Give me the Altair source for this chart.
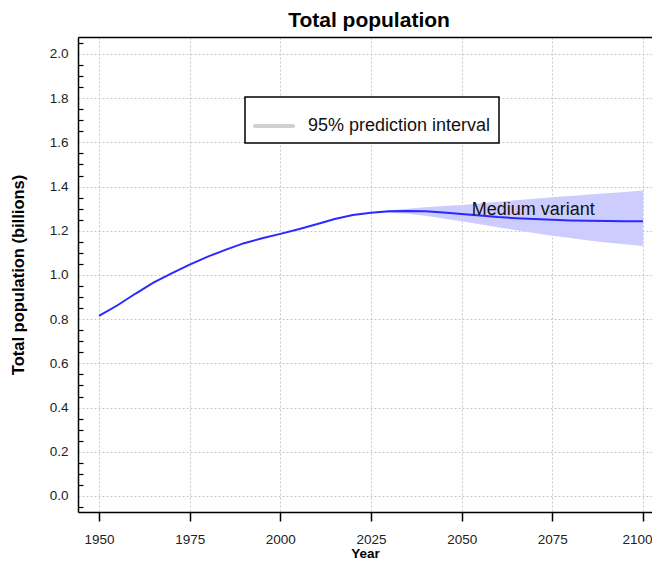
import altair as alt
import pandas as pd

FONT = "Liberation Sans"

# ---- data ----
years = [1950, 1955, 1960, 1965, 1970, 1975, 1980, 1985, 1990, 1995, 2000,
         2005, 2010, 2015, 2020, 2025, 2030, 2035, 2040, 2045, 2050, 2055,
         2060, 2065, 2070, 2075, 2080, 2085, 2090, 2095, 2100]
medium = [0.815, 0.862, 0.915, 0.965, 1.007, 1.047, 1.083, 1.115, 1.144, 1.166, 1.186,
          1.207, 1.230, 1.253, 1.271, 1.282, 1.288, 1.290, 1.288, 1.283, 1.276, 1.269,
          1.262, 1.257, 1.253, 1.250, 1.247, 1.245, 1.244, 1.243, 1.243]

band_years = [2020, 2025, 2030, 2035, 2040, 2045, 2050, 2055, 2060, 2065, 2070,
              2075, 2080, 2085, 2090, 2095, 2100]
band_lo = [1.271, 1.281, 1.282, 1.277, 1.268, 1.256, 1.243, 1.230, 1.216, 1.203, 1.190,
           1.178, 1.167, 1.156, 1.147, 1.139, 1.131]
band_hi = [1.271, 1.283, 1.293, 1.300, 1.306, 1.312, 1.317, 1.324, 1.331, 1.338, 1.345,
           1.352, 1.358, 1.364, 1.370, 1.376, 1.382]
band_label = "95% prediction interval"

ann_year = [2052.8]
ann_value = [1.271]
ann_text = ["Medium variant"]

x_ticks = [1950, 1975, 2000, 2025, 2050, 2075, 2100]
y_ticks = [-0.05, 0.0, 0.05, 0.1, 0.15, 0.2, 0.25, 0.3, 0.35, 0.4, 0.45, 0.5, 0.55,
           0.6, 0.65, 0.7, 0.75, 0.8, 0.85, 0.9, 0.95, 1.0, 1.05, 1.1, 1.15, 1.2,
           1.25, 1.3, 1.35, 1.4, 1.45, 1.5, 1.55, 1.6, 1.65, 1.7, 1.75, 1.8, 1.85,
           1.9, 1.95, 2.0, 2.05]
x_domain = [1944.21, 2102.48]
y_domain = [-0.0724, 2.0769]

line_df = pd.DataFrame({"Year": years, "Pop": medium})
band_df = pd.DataFrame({"Year": band_years, "lo": band_lo, "hi": band_hi,
                        "key": [band_label] * len(band_years)})
ann_df = pd.DataFrame({"Year": ann_year, "Pop": ann_value, "text": ann_text})

xscale = alt.Scale(domain=x_domain, nice=False, zero=False)
yscale = alt.Scale(domain=y_domain, nice=False, zero=False)

major = "abs(datum.value*5 - round(datum.value*5)) < 0.001"

x_axis = alt.Axis(values=x_ticks, format="d", grid=True, gridColor="#c8c8c8",
                  gridDash=[2, 2], tickSize=9, tickColor="black", tickWidth=1.5,
                  domainColor="black", domainWidth=1.5, labelFont=FONT,
                  labelFontSize=13.5, labelColor="#222", labelPadding=11,
                  labelFlush=False, labelOverlap=False,
                  labelOffset={"condition": {"test": "datum.value == 2100", "value": -6},
                               "value": 0},
                  title="Year", titleFont=FONT, titleFontSize=13.5,
                  titleFontWeight="bold", titleColor="black", titlePadding=1)

y_axis = alt.Axis(values=y_ticks, labelExpr=f"{major} ? format(datum.value, '.1f') : ''",
                  grid=True, gridColor="#c8c8c8", gridDash=[2, 2],
                  gridOpacity={"condition": {"test": major, "value": 1}, "value": 0},
                  tickOpacity={"condition": {"test": major, "value": 0}, "value": 1},
                  tickSize={"expr": "-5"}, tickColor="black", tickWidth=1.2,
                  domainColor="black", domainWidth=1.5, labelFont=FONT,
                  labelFontSize=13.5, labelColor="#222", labelPadding=15,
                  labelFlush=False, labelOverlap=False,
                  title="Total population (billions)", titleFont=FONT,
                  titleFontSize=16.5, titleFontWeight="bold", titleColor="black",
                  titlePadding=23)

top_axis = alt.Axis(orient="top", labels=False, ticks=False, grid=False, domain=True,
                    domainColor="black", domainWidth=1.5, title=None)

pill = "M-0.9,-0.1 L0.9,-0.1 A0.1,0.1 0 0 1 0.9,0.1 L-0.9,0.1 A0.1,0.1 0 0 1 -0.9,-0.1 Z"

band = alt.Chart(band_df).mark_area(color="#ccccff", opacity=1).encode(
    x=alt.X("Year:Q", scale=xscale, axis=x_axis),
    y=alt.Y("lo:Q", scale=yscale, axis=y_axis),
    y2="hi:Q",
)

legend_layer = alt.Chart(band_df).mark_area(opacity=0).encode(
    x=alt.X("Year:Q", scale=xscale, axis=top_axis),
    y=alt.Y("lo:Q", scale=yscale, axis=y_axis),
    y2="hi:Q",
    color=alt.Color("key:N", scale=alt.Scale(range=["#d0d0d0"]),
                    legend=alt.Legend(title=None, orient="none", legendX=167, legendY=60,
                                      symbolType=pill, symbolSize=1764,
                                      symbolStrokeWidth=0, symbolOpacity=1,
                                      labelFont=FONT, labelFontSize=18,
                                      labelColor="#111", labelOffset=13,
                                      labelLimit=400, padding=8,
                                      strokeColor="black", fillColor="white")),
)

line = alt.Chart(line_df).mark_line(color="#2a2aff", strokeWidth=2).encode(
    x=alt.X("Year:Q", scale=xscale, axis=None),
    y=alt.Y("Pop:Q", scale=yscale, axis=y_axis),
)

ann = alt.Chart(ann_df).mark_text(align="left", baseline="alphabetic", font=FONT,
                                  fontSize=18, color="#111").encode(
    x=alt.X("Year:Q", scale=xscale, axis=None),
    y=alt.Y("Pop:Q", scale=yscale, axis=y_axis),
    text="text:N",
)

chart = alt.layer(band, legend_layer, line, ann).resolve_axis(
    x="independent"
).properties(
    width=574, height=475,
    title=alt.TitleParams("Total population", font=FONT, fontSize=21,
                          fontWeight="bold", anchor="middle", dx=4, offset=5,
                          color="black"),
    padding={"left": 70, "top": 29, "right": 0, "bottom": 48},
    autosize=alt.AutoSizeParams(type="none"),
).configure_view(strokeWidth=0, stroke="transparent").configure_legend(strokeWidth=1.5)

chart.save("out.html", embed_options={"renderer": "svg", "actions": False})
